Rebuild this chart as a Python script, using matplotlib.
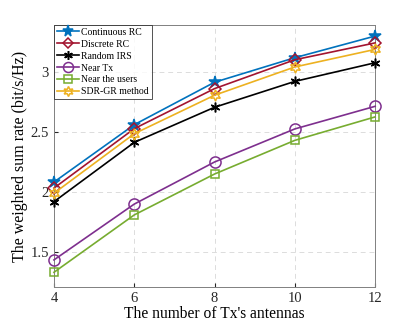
import matplotlib
matplotlib.use("Agg")
import matplotlib.pyplot as plt

x = [4, 6, 8, 10, 12]
continuous_rc = [2.083, 2.56, 2.913, 3.117, 3.297]
discrete_rc = [2.033, 2.527, 2.86, 3.10, 3.24]
random_irs = [1.92, 2.413, 2.705, 2.92, 3.075]
near_tx = [1.436, 1.90, 2.25, 2.525, 2.713]
near_users = [1.333, 1.81, 2.15, 2.43, 2.625]
sdr_gr = [1.99, 2.485, 2.805, 3.04, 3.186]

labels = ["Continuous RC", "Discrete RC", "Random IRS", "Near Tx",
          "Near the users", "SDR-GR method"]
xticks = [4, 6, 8, 10, 12]
yticks = [1.5, 2, 2.5, 3]

plt.rcParams['font.family'] = ['Liberation Serif', 'DejaVu Serif']
plt.rcParams['mathtext.fontset'] = 'stix'

fig = plt.figure(figsize=(4.15, 3.27), dpi=100)
ax = fig.add_axes([0.130, 0.122, 0.774, 0.802])

series = [continuous_rc, discrete_rc, random_irs, near_tx, near_users, sdr_gr]
colors = ['#0072BD', '#A2142F', '#000000', '#7E2F8E', '#77AC30', '#EDB120']
markers = ['*', 'D', (6, 2, 0), 'o', 's', (6, 1, 0)]
msizes = [9, 6, 7, 8, 6, 8]
for ys, c, m, ms, lab in zip(series, colors, markers, msizes, labels):
    mfc = c if m == '*' else 'none'
    ax.plot(x, ys, color=c, marker=m, markersize=ms, markerfacecolor=mfc,
            markeredgecolor=c, markeredgewidth=1.1, linewidth=1.2, label=lab,
            clip_on=False, zorder=3)

ax.set_xlim(4, 12)
ax.set_ylim(1.21, 3.39)
ax.set_xticks(xticks)
ax.set_yticks(yticks)
ax.set_yticklabels(['1.5', '2', '2.5', '3'])
ax.tick_params(direction='in', length=3, labelsize=10.5, colors='#262626',
               top=False, right=False)
ax.grid(True, linestyle=(0, (5, 4)), color='#dcdcdc', linewidth=0.7)
for s in ax.spines.values():
    s.set_color('#808080')
    s.set_linewidth(0.7)

ax.set_xlabel("The number of Tx's antennas", fontsize=11.2, labelpad=1)
ax.set_ylabel("The weighted sum rate (bit/s/Hz)", fontsize=11.5, labelpad=2)

leg = ax.legend(loc='upper left', fontsize=7.0, frameon=True, fancybox=False,
                edgecolor='#262626', borderpad=0.3, labelspacing=0.3,
                handlelength=2.3, handletextpad=0.2, borderaxespad=0.0,
                markerscale=0.9)
leg.get_frame().set_linewidth(0.7)

fig.savefig('out.png', dpi=100)
